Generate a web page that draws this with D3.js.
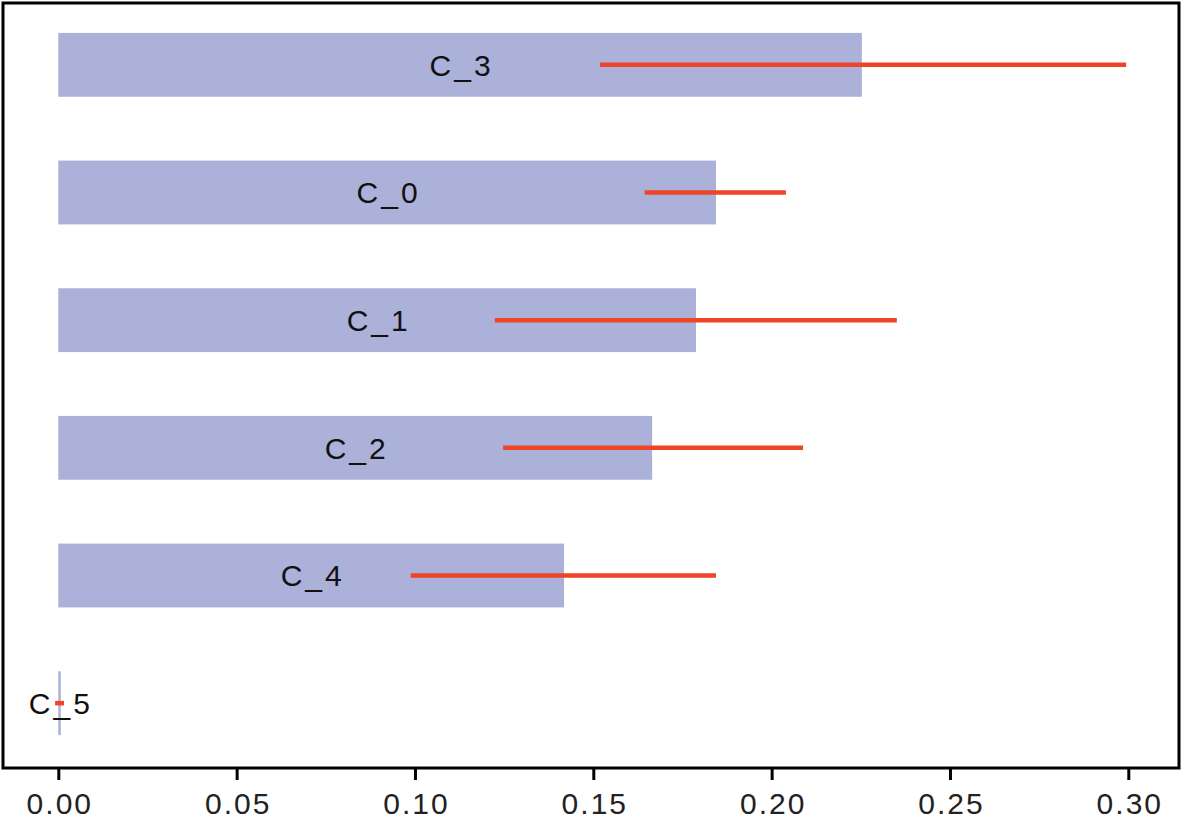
<!DOCTYPE html>
<html>
<head>
<meta charset="utf-8">
<script src="https://cdnjs.cloudflare.com/ajax/libs/d3/7.8.5/d3.min.js"></script>
<style>
body { margin: 0; background: #fff; }
text { font-family: "Liberation Sans", Arial, Helvetica, sans-serif; }
</style>
</head>
<body>
<svg id="svg"></svg>
<script>
var w = 1181, h = 823

// data, top to bottom
var categories = ["C_3", "C_0", "C_1", "C_2", "C_4", "C_5"]
var values = [0.2253, 0.1844, 0.1788, 0.1665, 0.1418, 0.0006]
var errLow = [0.1519, 0.1644, 0.1224, 0.1247, 0.0988, -0.0009]
var errHigh = [0.2994, 0.2040, 0.2351, 0.2088, 0.1844, 0.0016]
var ticks = [0.00, 0.05, 0.10, 0.15, 0.20, 0.25, 0.30]

function init()
{
    var svg = d3.select("#svg")
        .attr("width", w)
        .attr("height", h)

    var left = 3, top = 3, right = 1179, bottom = 768

    var x = d3.scaleLinear()
        .domain([0, 0.30])
        .range([58.3, 1128.3])

    var y = d3.scaleBand()
        .domain(categories)
        .range([1, 767])
        .paddingInner(0.5)
        .paddingOuter(0.25)

    var rows = categories.map(function(c, i) {
        return {name: c, v: values[i], lo: errLow[i], hi: errHigh[i]}
    })

    var g = svg.append("g")

    g.selectAll("rect.bar")
        .data(rows)
        .enter().append("rect")
        .attr("class", "bar")
        .attr("x", x(0))
        .attr("y", function(d){return y(d.name)})
        .attr("width", function(d){return Math.max(2.5, x(d.v) - x(0))})
        .attr("height", y.bandwidth())
        .attr("fill", "#acb1da")

    g.selectAll("text.lab")
        .data(rows)
        .enter().append("text")
        .attr("class", "lab")
        .attr("x", function(d){return (x(0) + x(d.v)) / 2 + 1.5})
        .attr("y", function(d){return y(d.name) + y.bandwidth() / 2})
        .attr("dy", "0.36em")
        .attr("text-anchor", "middle")
        .attr("font-size", "30px")
        .attr("letter-spacing", "3px")
        .attr("fill", "#111")
        .text(function(d){return d.name})

    g.selectAll("line.err")
        .data(rows)
        .enter().append("line")
        .attr("class", "err")
        .attr("x1", function(d){return x(d.lo)})
        .attr("x2", function(d){return x(d.hi)})
        .attr("y1", function(d){return y(d.name) + y.bandwidth() / 2})
        .attr("y2", function(d){return y(d.name) + y.bandwidth() / 2})
        .attr("stroke", "#ee4528")
        .attr("stroke-width", 4.5)

    // frame
    svg.append("rect")
        .attr("x", left)
        .attr("y", top)
        .attr("width", right - left)
        .attr("height", bottom - top)
        .attr("fill", "none")
        .attr("stroke", "#000")
        .attr("stroke-width", 3)

    var axis = d3.axisBottom(x)
        .tickValues(ticks)
        .tickFormat(d3.format(".2f"))
        .tickSize(11)
        .tickPadding(13)

    var ax = svg.append("g")
        .attr("transform", "translate(0," + (bottom + 1) + ")")
        .call(axis)
    ax.select(".domain").remove()
    ax.selectAll(".tick line").attr("stroke", "#000").attr("stroke-width", 3)
    ax.selectAll(".tick text")
        .attr("font-size", "30px")
        .attr("fill", "#222")
        .attr("dx", "1px")
        .style("letter-spacing", "2px")
        .style("font-family", "'Liberation Sans', Arial, sans-serif")
}

init()
</script>
</body>
</html>
